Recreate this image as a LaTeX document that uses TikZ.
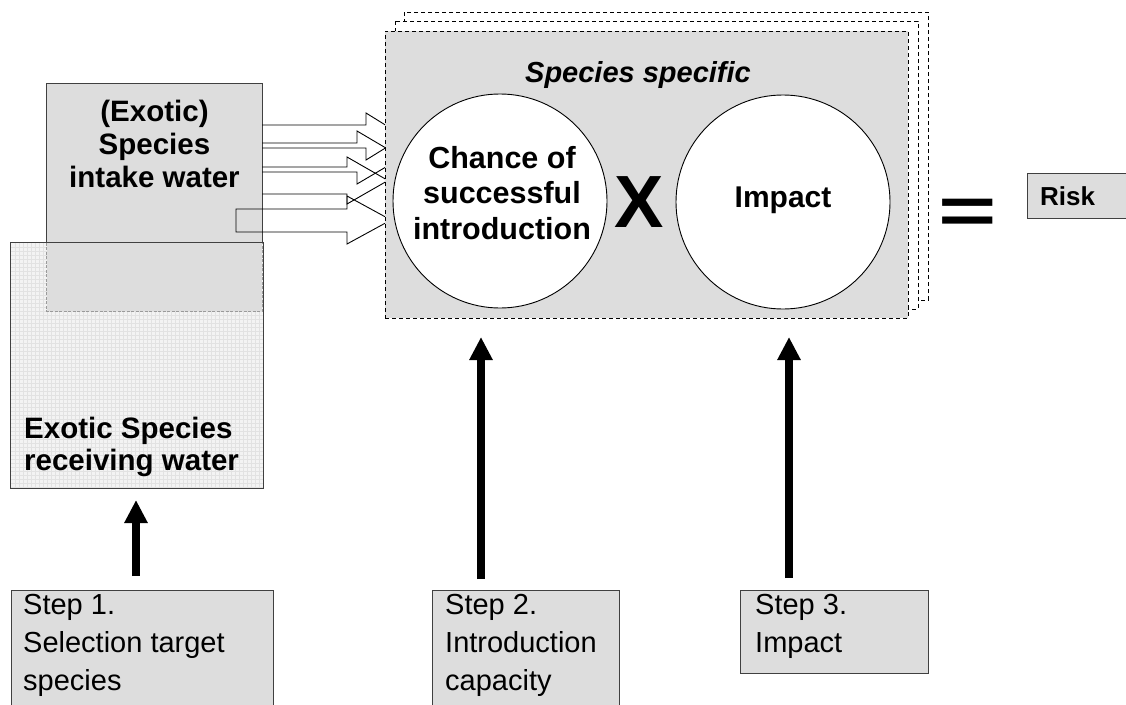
\documentclass[tikz,border=0pt]{standalone}
\usepackage{fontspec}
\setmainfont{Liberation Sans}
\usetikzlibrary{arrows.meta}
\definecolor{boxgray}{HTML}{DDDDDD}
\definecolor{edgegray}{HTML}{404040}
\definecolor{gridgray}{HTML}{E2E2E2}
\definecolor{recvfill}{HTML}{F3F3F3}
\definecolor{fadeedge}{HTML}{9A9A9A}
\begin{document}
\begin{tikzpicture}[x=1pt,y=-1pt,
  boldtxt/.style={font=\fontsize{29.5}{33}\selectfont\bfseries, inner sep=0pt},
  steptxt/.style={font=\fontsize{29}{38}\selectfont, inner sep=0pt, align=left, anchor=north west},
  stepbox/.style={rectangle, draw=edgegray, fill=boxgray, line width=1pt, inner sep=0pt},
  specbox/.style={draw=black, dash pattern=on 4pt off 3pt, line width=0.9pt},
  bigarrow/.style={line width=8pt, -{Triangle[width=22pt,length=23pt]}},
  blockarrow/.style={draw=black, line width=0.9pt, line join=miter},
  circ/.style={circle, draw=black, fill=white, line width=0.9pt, minimum size=214pt, inner sep=0pt}
]
\useasboundingbox (0,0) rectangle (1126,704);
\fill[white] (0,0) rectangle (1126,704);

% receiving water box (fill + grid)
\node[rectangle, fill=recvfill, minimum width=252pt, minimum height=245pt, inner sep=0pt] (recv) at (137,365.5) {};
\foreach \i in {1,...,62} \draw[gridgray, line width=0.4pt] ({11+4*\i},243) -- ({11+4*\i},488);
\foreach \j in {1,...,61} \draw[gridgray, line width=0.4pt] (11,{243+4*\j}) -- (263,{243+4*\j});

% intake water box
\node[rectangle, fill=boxgray, minimum width=215pt, minimum height=227pt, inner sep=0pt] (intake) at (154.5,197.5) {};
\draw[edgegray, line width=1pt] (intake.west |- recv.north) -- (intake.north west) -- (intake.north east) -- (intake.east |- recv.north);
\draw[fadeedge, line width=0.8pt, dash pattern=on 3pt off 1.5pt] (intake.west |- recv.north) -- (intake.south west) -- (intake.south east) -- (intake.east |- recv.north);
\draw[edgegray, line width=1pt] (recv.north west) rectangle (recv.south east);

% hollow block arrows
\draw[blockarrow] (262,125) -- (366,125) -- (366,113) -- (404,136.5) -- (366,160) -- (366,148) -- (262,148);
\draw[blockarrow] (262,143) -- (357,143) -- (357,131) -- (402,157.5) -- (357,184) -- (357,172) -- (262,172);
\draw[blockarrow] (262,167) -- (347,167) -- (347,157) -- (388,180.5) -- (347,204) -- (347,194) -- (262,194);
\draw[blockarrow] (236,209) -- (347,209) -- (347,196) -- (391,220) -- (347,244) -- (347,232) -- (236,232) -- cycle;

% stacked species-specific boxes
\draw[specbox, fill=white] (404,12) rectangle (928,300);
\draw[specbox, fill=white] (395,21) rectangle (918,309);
\node[specbox, rectangle, fill=boxgray, minimum width=523pt, minimum height=287pt, inner sep=0pt] (spec) at (646.5,174.5) {};

\node[boldtxt, font=\fontsize{29}{33}\selectfont\bfseries\itshape, anchor=base] (spectitle) at (638,82) {Species specific};

% circles
\node[circ] (chance) at (500,201) {};
\node[circ] (impactc) at (783,202) {};
\node[boldtxt, font=\fontsize{30.5}{35.5}\selectfont\bfseries, align=center, anchor=north] (chancetxt) at (502,146) {Chance of\\successful\\introduction};
\node[boldtxt, font=\fontsize{30}{33}\selectfont\bfseries, anchor=base] (impacttxt) at (783,207) {Impact};

\node[inner sep=0pt, font=\fontsize{74}{80}\selectfont\bfseries, anchor=base] (times) at (639,227) {X};
\node[inner sep=0pt, font=\fontsize{100}{100}\selectfont\bfseries, anchor=base] (equals) at (968,233) {\scalebox{1}[0.66]{=}};

% risk box
\node[stepbox, minimum width=113pt, minimum height=45pt] (risk) at (1083.5,195.5) {};
\node[inner sep=0pt, font=\fontsize{26}{28}\selectfont\bfseries, anchor=base west] (risktxt) at (1040,205) {Risk};

% box texts
\node[boldtxt, align=center, anchor=north] (intaketxt) at (154.5,100) {(Exotic)\\Species\\intake water};
\node[boldtxt, font=\fontsize{29.5}{32}\selectfont\bfseries, align=left, anchor=north west] (recvtxt) at (24,417) {Exotic Species\\receiving water};

% step boxes
\node[stepbox, minimum width=262pt, minimum height=124pt] (s1) at (142,652) {};
\node[stepbox, minimum width=187pt, minimum height=124pt] (s2) at (525.5,652) {};
\node[stepbox, minimum width=188pt, minimum height=83pt] (s3) at (834,631.5) {};
\node[steptxt] (s1t) at (23,594) {Step 1.\\Selection target\\species};
\node[steptxt] (s2t) at (445,594) {Step 2.\\Introduction\\capacity};
\node[steptxt] (s3t) at (755,594) {Step 3.\\Impact};

% thick arrows
\coordinate (a1from) at (136,576);
\coordinate (a1to) at (136,500);
\coordinate (a2from) at (481,579);
\coordinate (a2to) at (481,337);
\coordinate (a3from) at (789,578);
\coordinate (a3to) at (789,337);
\draw[bigarrow] (a1from) -- (a1to);
\draw[bigarrow] (a2from) -- (a2to);
\draw[bigarrow] (a3from) -- (a3to);
\end{tikzpicture}
\end{document}
